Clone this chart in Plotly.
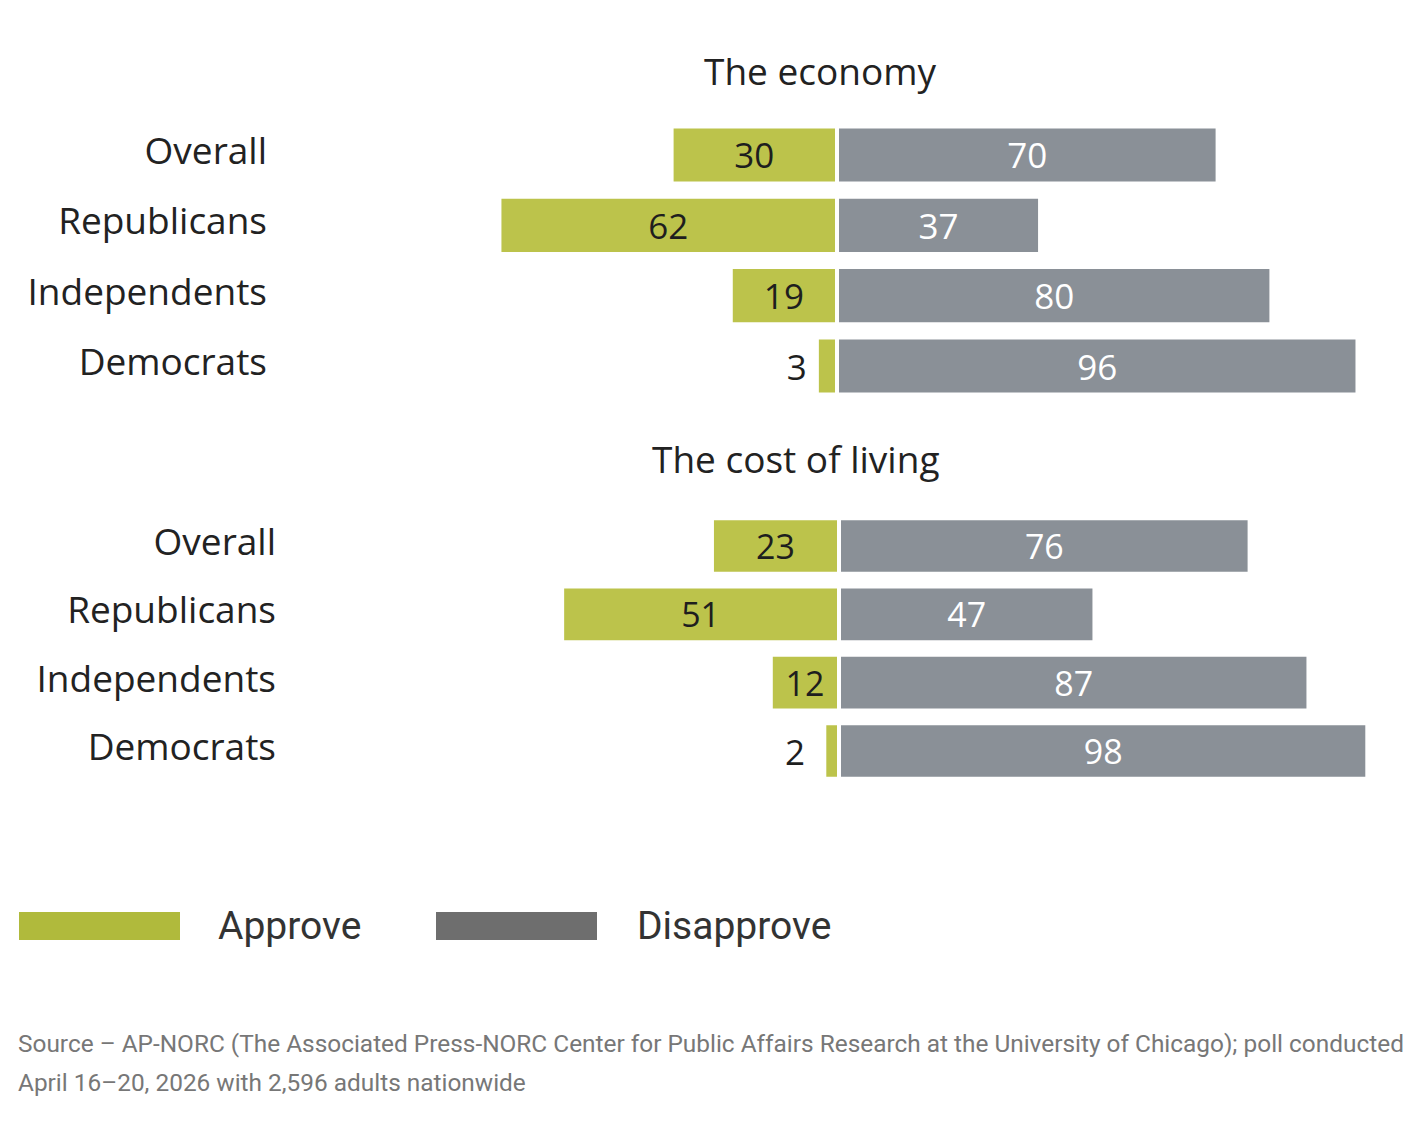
import plotly.graph_objects as go

categories = ["Overall", "Republicans", "Independents", "Democrats"]
economy_approve = [30, 62, 19, 3]
economy_disapprove = [70, 37, 80, 96]
cost_approve = [23, 51, 12, 2]
cost_disapprove = [76, 47, 87, 98]
panel_titles = ["The economy", "The cost of living"]
legend_labels = ["Approve", "Disapprove"]
source_lines = [
    "Source \u2013 AP-NORC (The Associated Press-NORC Center for Public Affairs Research at the University of Chicago); poll conducted",
    "April 16\u201320, 2026 with 2,596 adults nationwide",
]

GREEN = "#bcc34b"
GRAY = "#8a9097"
LEG_GREEN = "#b0ba3c"
LEG_GRAY = "#6e6e6e"
LABEL_FONT = "Open Sans"

# page body has an 8px default margin: build figure in screen coordinates
OFF = 8
W, H = 1424 - OFF, 1122 - OFF


def px(x):
    return (x - OFF) / W


def py(y):
    return 1 - (y - OFF) / H


fig = go.Figure()


def add_panel(approve, disapprove, xa, ya, gap, pad):
    pos_a = ["outside" if v < 8 else "inside" for v in approve]
    txt_a = [str(v) + (pad if v < 8 else "") for v in approve]
    fig.add_trace(go.Bar(
        y=categories, x=[-v for v in approve], base=[-gap] * len(approve),
        orientation="h", marker=dict(color=GREEN, line=dict(width=0)),
        width=0.755, text=txt_a, textposition=pos_a,
        insidetextanchor="middle",
        insidetextfont=dict(family=LABEL_FONT, size=35, color="#1e1e1e"),
        outsidetextfont=dict(family=LABEL_FONT, size=35, color="#1e1e1e"),
        textangle=0, cliponaxis=False, showlegend=False,
        xaxis=xa, yaxis=ya, hoverinfo="skip",
    ))
    fig.add_trace(go.Bar(
        y=categories, x=disapprove, base=[gap] * len(disapprove),
        orientation="h", marker=dict(color=GRAY, line=dict(width=0)),
        width=0.755, text=[str(v) for v in disapprove], textposition="inside",
        insidetextanchor="middle",
        insidetextfont=dict(family=LABEL_FONT, size=35, color="#ffffff"),
        textangle=0, cliponaxis=False, showlegend=False,
        xaxis=xa, yaxis=ya, hoverinfo="skip",
    ))


S1, S2 = 5.38, 5.35
Z1, Z2 = 837 - OFF, 839 - OFF
add_panel(economy_approve, economy_disapprove, "x", "y", 2 / S1, "\u00a0")
add_panel(cost_approve, cost_disapprove, "x2", "y2", 2 / S2, "\u00a0\u00a0")

axis_common = dict(showgrid=False, zeroline=False, showline=False, showticklabels=False, fixedrange=True)
ycommon = dict(showgrid=False, zeroline=False, showline=False, ticks="", autorange=False,
               range=[3.5, -0.5], type="category", anchor="free", side="left",
               ticklabelshift=4,
               tickfont=dict(family=LABEL_FONT, size=37, color="#222222"))

fig.update_layout(
    width=W, height=H, margin=dict(l=0, r=0, t=0, b=0),
    paper_bgcolor="white", plot_bgcolor="white",
    barmode="overlay", uniformtext=dict(mode=False),
    xaxis=dict(domain=[0, 1], range=[-Z1 / S1, (W - Z1) / S1], anchor="y", **axis_common),
    xaxis2=dict(domain=[0, 1], range=[-Z2 / S2, (W - Z2) / S2], anchor="y2", **axis_common),
    yaxis=dict(domain=[py(401.2), py(119.8)], position=(266 - OFF + 1) / W, **ycommon),
    yaxis2=dict(domain=[py(785.2), py(511.8)], position=(275 - OFF + 1) / W, **ycommon),
)

annotations = [
    dict(text=panel_titles[0], x=px(820), y=py(71), xref="paper", yref="paper",
         showarrow=False, xanchor="center", yanchor="middle",
         font=dict(family=LABEL_FONT, size=37, color="#222222")),
    dict(text=panel_titles[1], x=px(795), y=py(458), xref="paper", yref="paper",
         showarrow=False, xanchor="center", yanchor="middle",
         font=dict(family=LABEL_FONT, size=37, color="#222222")),
    dict(text=legend_labels[0], x=px(216), y=py(926), xref="paper", yref="paper",
         showarrow=False, xanchor="left", yanchor="middle",
         font=dict(family="Roboto", size=39, color="#333333")),
    dict(text=legend_labels[1], x=px(635), y=py(926), xref="paper", yref="paper",
         showarrow=False, xanchor="left", yanchor="middle",
         font=dict(family="Roboto", size=39, color="#333333")),
    dict(text=source_lines[0], x=px(16), y=py(1043), xref="paper", yref="paper",
         showarrow=False, xanchor="left", yanchor="middle",
         font=dict(family="Roboto", size=24.4, color="#777777")),
    dict(text=source_lines[1], x=px(16), y=py(1082), xref="paper", yref="paper",
         showarrow=False, xanchor="left", yanchor="middle",
         font=dict(family="Roboto", size=24.4, color="#777777")),
]
fig.update_layout(annotations=annotations)

shapes = [
    dict(type="rect", xref="paper", yref="paper", x0=px(19), x1=px(180),
         y0=py(940), y1=py(912), fillcolor=LEG_GREEN, line=dict(width=0)),
    dict(type="rect", xref="paper", yref="paper", x0=px(436), x1=px(597),
         y0=py(940), y1=py(912), fillcolor=LEG_GRAY, line=dict(width=0)),
]
fig.update_layout(shapes=shapes)

fig.write_html("out.html")
